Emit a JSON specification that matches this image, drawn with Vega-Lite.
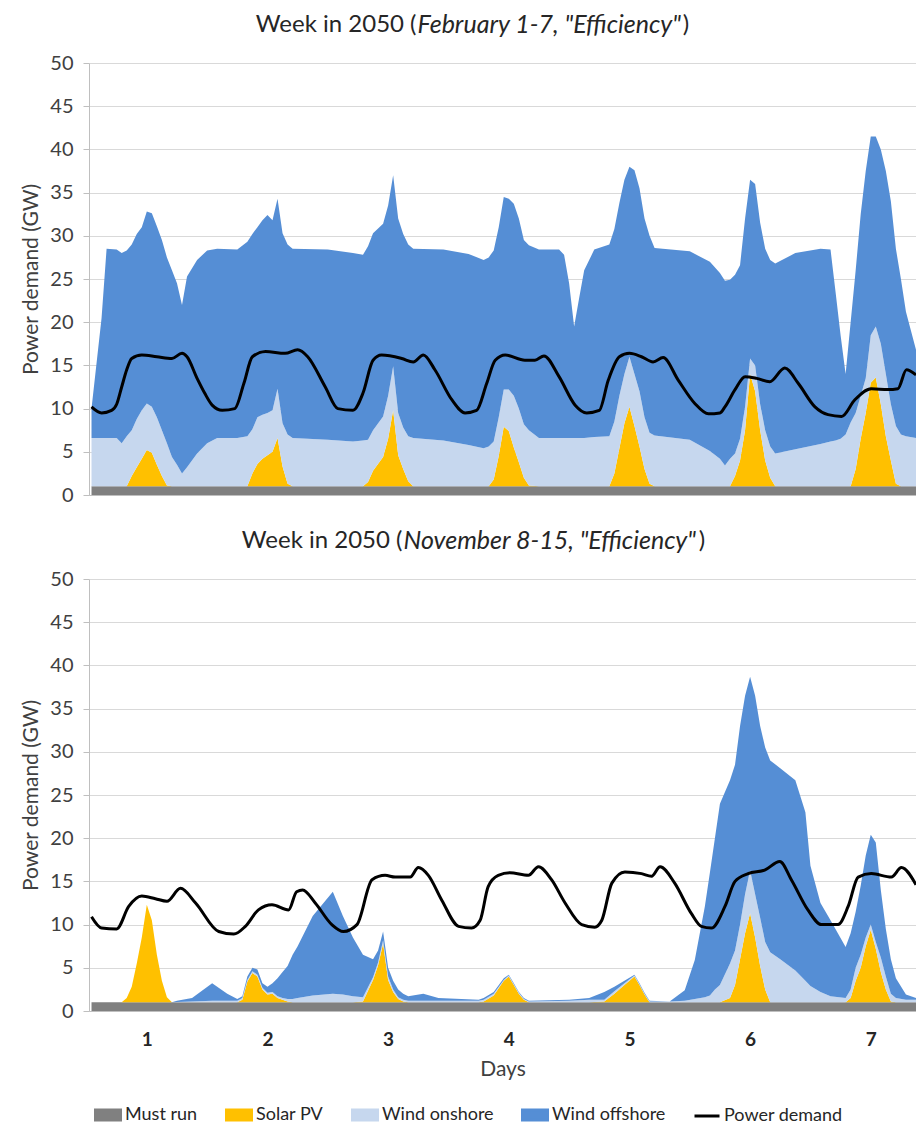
{
  "$schema": "https://vega.github.io/schema/vega-lite/v6.json",
  "padding": {"left": 20, "top": 12, "right": 0, "bottom": 0},
  "spacing": 23,
  "config": {
    "font": "Lato",
    "view": {"stroke": null},
    "axis": {"labelColor": "#404040", "titleColor": "#404040", "labelFontSize": 20, "titleFontSize": 21, "titleFontWeight": "normal", "domainColor": "#bfbfbf", "tickColor": "#bfbfbf", "gridColor": "#d9d9d9"}
  },
  "resolve": {"scale": {"color": "shared"}, "legend": {"color": "shared"}},
  "datasets": {
    "areas": [
      {"p":"F","h":0,"a":1,"b":0,"c":5.6,"d":3.4},
      {"p":"F","h":2,"a":1,"b":0,"c":5.6,"d":13.9},
      {"p":"F","h":3,"a":1,"b":0,"c":5.6,"d":21.9},
      {"p":"F","h":5,"a":1,"b":0,"c":5.6,"d":21.8},
      {"p":"F","h":6,"a":1,"b":0,"c":5.0,"d":22.0},
      {"p":"F","h":7,"a":1,"b":0,"c":5.8,"d":21.5},
      {"p":"F","h":8,"a":1,"b":1.2,"c":5.3,"d":21.5},
      {"p":"F","h":9,"a":1,"b":2.2,"c":5.6,"d":21.4},
      {"p":"F","h":10,"a":1,"b":3.2,"c":5.6,"d":21.2},
      {"p":"F","h":11,"a":1,"b":4.2,"c":5.4,"d":22.2},
      {"p":"F","h":12,"a":1,"b":3.9,"c":5.3,"d":22.4},
      {"p":"F","h":13,"a":1,"b":2.5,"c":5.5,"d":22.1},
      {"p":"F","h":14,"a":1,"b":1.2,"c":5.3,"d":22.0},
      {"p":"F","h":15,"a":1,"b":0.1,"c":4.9,"d":21.5},
      {"p":"F","h":16,"a":1,"b":0,"c":3.4,"d":21.6},
      {"p":"F","h":17,"a":1,"b":0,"c":2.5,"d":21.0},
      {"p":"F","h":18,"a":1,"b":0,"c":1.5,"d":19.5},
      {"p":"F","h":19,"a":1,"b":0,"c":2.2,"d":22.1},
      {"p":"F","h":21,"a":1,"b":0,"c":3.8,"d":22.4},
      {"p":"F","h":23,"a":1,"b":0,"c":5.0,"d":22.3},
      {"p":"F","h":25,"a":1,"b":0,"c":5.6,"d":21.9},
      {"p":"F","h":29,"a":1,"b":0,"c":5.6,"d":21.8},
      {"p":"F","h":31,"a":1,"b":0,"c":5.8,"d":22.5},
      {"p":"F","h":32,"a":1,"b":1.5,"c":5.1,"d":22.6},
      {"p":"F","h":33,"a":1,"b":2.6,"c":5.4,"d":22.0},
      {"p":"F","h":34,"a":1,"b":3.2,"c":5.1,"d":22.5},
      {"p":"F","h":35,"a":1,"b":3.6,"c":4.9,"d":22.9},
      {"p":"F","h":36,"a":1,"b":4.0,"c":4.8,"d":22.0},
      {"p":"F","h":37,"a":1,"b":5.6,"c":5.7,"d":22.0},
      {"p":"F","h":38,"a":1,"b":2.3,"c":5.0,"d":22.0},
      {"p":"F","h":39,"a":1,"b":0.3,"c":5.7,"d":22.0},
      {"p":"F","h":40,"a":1,"b":0,"c":5.6,"d":21.9},
      {"p":"F","h":47,"a":1,"b":0,"c":5.4,"d":22.0},
      {"p":"F","h":52,"a":1,"b":0,"c":5.2,"d":21.8},
      {"p":"F","h":54,"a":1,"b":0,"c":5.3,"d":21.5},
      {"p":"F","h":55,"a":1,"b":0.5,"c":4.9,"d":22.4},
      {"p":"F","h":56,"a":1,"b":1.8,"c":4.7,"d":22.8},
      {"p":"F","h":58,"a":1,"b":3.4,"c":4.7,"d":22.3},
      {"p":"F","h":59,"a":1,"b":5.5,"c":5.0,"d":22.0},
      {"p":"F","h":60,"a":1,"b":8.8,"c":5.1,"d":22.1},
      {"p":"F","h":61,"a":1,"b":3.6,"c":4.9,"d":22.5},
      {"p":"F","h":62,"a":1,"b":2.0,"c":4.8,"d":22.4},
      {"p":"F","h":63,"a":1,"b":0.6,"c":5.2,"d":22.2},
      {"p":"F","h":64,"a":1,"b":0,"c":5.6,"d":21.9},
      {"p":"F","h":70,"a":1,"b":0,"c":5.3,"d":22.1},
      {"p":"F","h":75,"a":1,"b":0,"c":4.8,"d":22.1},
      {"p":"F","h":78,"a":1,"b":0,"c":4.4,"d":21.8},
      {"p":"F","h":79,"a":1,"b":0,"c":4.6,"d":21.9},
      {"p":"F","h":80,"a":1,"b":0.8,"c":4.4,"d":22.1},
      {"p":"F","h":81,"a":1,"b":3.5,"c":4.5,"d":22.0},
      {"p":"F","h":82,"a":1,"b":6.9,"c":4.3,"d":22.3},
      {"p":"F","h":83,"a":1,"b":6.4,"c":4.8,"d":22.1},
      {"p":"F","h":84,"a":1,"b":4.5,"c":6.0,"d":22.2},
      {"p":"F","h":85,"a":1,"b":2.8,"c":6.2,"d":22.0},
      {"p":"F","h":86,"a":1,"b":1.0,"c":6.2,"d":21.3},
      {"p":"F","h":87,"a":1,"b":0.1,"c":6.4,"d":21.4},
      {"p":"F","h":89,"a":1,"b":0,"c":5.6,"d":21.8},
      {"p":"F","h":93,"a":1,"b":0,"c":5.6,"d":21.8},
      {"p":"F","h":94,"a":1,"b":0,"c":5.6,"d":21.2},
      {"p":"F","h":95,"a":1,"b":0,"c":5.6,"d":17.9},
      {"p":"F","h":96,"a":1,"b":0,"c":5.6,"d":12.9},
      {"p":"F","h":97,"a":1,"b":0,"c":5.6,"d":16.2},
      {"p":"F","h":98,"a":1,"b":0,"c":5.6,"d":19.4},
      {"p":"F","h":100,"a":1,"b":0,"c":5.7,"d":21.7},
      {"p":"F","h":103,"a":1,"b":0,"c":5.8,"d":22.2},
      {"p":"F","h":104,"a":1,"b":1.5,"c":6.0,"d":22.3},
      {"p":"F","h":105,"a":1,"b":4.4,"c":6.1,"d":22.3},
      {"p":"F","h":106,"a":1,"b":7.3,"c":5.7,"d":22.5},
      {"p":"F","h":107,"a":1,"b":9.2,"c":5.8,"d":22.0},
      {"p":"F","h":108,"a":1,"b":7.0,"c":6.0,"d":23.6},
      {"p":"F","h":109,"a":1,"b":4.6,"c":6.4,"d":23.5},
      {"p":"F","h":110,"a":1,"b":2.0,"c":6.0,"d":23.0},
      {"p":"F","h":111,"a":1,"b":0.3,"c":5.9,"d":22.8},
      {"p":"F","h":112,"a":1,"b":0,"c":5.9,"d":21.7},
      {"p":"F","h":119,"a":1,"b":0,"c":5.4,"d":21.8},
      {"p":"F","h":123,"a":1,"b":0,"c":4.1,"d":21.9},
      {"p":"F","h":125,"a":1,"b":0,"c":3.2,"d":21.5},
      {"p":"F","h":126,"a":1,"b":0,"c":2.4,"d":21.4},
      {"p":"F","h":127,"a":1,"b":0,"c":3.2,"d":20.7},
      {"p":"F","h":128,"a":1,"b":1.2,"c":2.6,"d":20.7},
      {"p":"F","h":129,"a":1,"b":3.0,"c":2.5,"d":20.1},
      {"p":"F","h":130,"a":1,"b":6.5,"c":2.7,"d":21.8},
      {"p":"F","h":131,"a":1,"b":13.0,"c":1.8,"d":20.7},
      {"p":"F","h":132,"a":1,"b":11.0,"c":3.0,"d":21.0},
      {"p":"F","h":133,"a":1,"b":6.5,"c":3.0,"d":21.0},
      {"p":"F","h":134,"a":1,"b":3.0,"c":3.5,"d":21.0},
      {"p":"F","h":135,"a":1,"b":1.0,"c":3.6,"d":21.6},
      {"p":"F","h":136,"a":1,"b":0,"c":3.8,"d":22.0},
      {"p":"F","h":140,"a":1,"b":0,"c":4.3,"d":22.7},
      {"p":"F","h":145,"a":1,"b":0,"c":4.9,"d":22.6},
      {"p":"F","h":147,"a":1,"b":0,"c":5.2,"d":22.2},
      {"p":"F","h":148,"a":1,"b":0,"c":5.3,"d":17.2},
      {"p":"F","h":149,"a":1,"b":0,"c":5.5,"d":12.0},
      {"p":"F","h":150,"a":1,"b":0,"c":6.0,"d":7.0},
      {"p":"F","h":151,"a":1,"b":0,"c":7.4,"d":11.6},
      {"p":"F","h":152,"a":1,"b":2.0,"c":6.5,"d":16.5},
      {"p":"F","h":153,"a":1,"b":5.5,"c":5.0,"d":21.0},
      {"p":"F","h":154,"a":1,"b":8.5,"c":4.0,"d":24.0},
      {"p":"F","h":155,"a":1,"b":12.0,"c":5.5,"d":23.0},
      {"p":"F","h":156,"a":1,"b":12.6,"c":5.9,"d":22.0},
      {"p":"F","h":157,"a":1,"b":9.5,"c":7.0,"d":22.5},
      {"p":"F","h":158,"a":1,"b":5.8,"c":7.2,"d":23.5},
      {"p":"F","h":159,"a":1,"b":3.0,"c":6.5,"d":23.5},
      {"p":"F","h":160,"a":1,"b":0.3,"c":6.7,"d":20.5},
      {"p":"F","h":161,"a":1,"b":0,"c":6.0,"d":18.0},
      {"p":"F","h":162,"a":1,"b":0,"c":5.8,"d":14.4},
      {"p":"F","h":164,"a":1,"b":0,"c":5.6,"d":10.2},
      {"p":"N","h":0,"a":1,"b":0,"c":0,"d":0},
      {"p":"N","h":6,"a":1,"b":0,"c":0,"d":0},
      {"p":"N","h":7,"a":1,"b":0.5,"c":0,"d":0},
      {"p":"N","h":8,"a":1,"b":1.8,"c":0,"d":0},
      {"p":"N","h":9,"a":1,"b":4.5,"c":0,"d":0},
      {"p":"N","h":10,"a":1,"b":7.5,"c":0,"d":0},
      {"p":"N","h":11,"a":1,"b":11.3,"c":0,"d":0},
      {"p":"N","h":12,"a":1,"b":9.5,"c":0,"d":0},
      {"p":"N","h":13,"a":1,"b":5.5,"c":0,"d":0},
      {"p":"N","h":14,"a":1,"b":2.5,"c":0,"d":0},
      {"p":"N","h":15,"a":1,"b":0.6,"c":0,"d":0},
      {"p":"N","h":16,"a":1,"b":0,"c":0,"d":0},
      {"p":"N","h":17,"a":1,"b":0,"c":0.05,"d":0.15},
      {"p":"N","h":20,"a":1,"b":0,"c":0.1,"d":0.4},
      {"p":"N","h":24,"a":1,"b":0,"c":0.2,"d":2.0},
      {"p":"N","h":27,"a":1,"b":0,"c":0.2,"d":0.8},
      {"p":"N","h":29,"a":1,"b":0,"c":0.2,"d":0.2},
      {"p":"N","h":30,"a":1,"b":0.3,"c":0.2,"d":0.2},
      {"p":"N","h":31,"a":1,"b":2.4,"c":0.2,"d":0.4},
      {"p":"N","h":32,"a":1,"b":3.4,"c":0.2,"d":0.4},
      {"p":"N","h":33,"a":1,"b":3.0,"c":0.2,"d":0.6},
      {"p":"N","h":34,"a":1,"b":1.5,"c":0.2,"d":0.5},
      {"p":"N","h":35,"a":1,"b":0.9,"c":0.2,"d":0.7},
      {"p":"N","h":36,"a":1,"b":1.0,"c":0.2,"d":1.0},
      {"p":"N","h":37,"a":1,"b":0.5,"c":0.2,"d":2.1},
      {"p":"N","h":38,"a":1,"b":0.3,"c":0.2,"d":3.0},
      {"p":"N","h":39,"a":1,"b":0.1,"c":0.3,"d":3.8},
      {"p":"N","h":40,"a":1,"b":0,"c":0.4,"d":5.1},
      {"p":"N","h":41,"a":1,"b":0,"c":0.5,"d":6.0},
      {"p":"N","h":44,"a":1,"b":0,"c":0.8,"d":9.2},
      {"p":"N","h":48,"a":1,"b":0,"c":1.0,"d":11.8},
      {"p":"N","h":50,"a":1,"b":0,"c":0.9,"d":9.1},
      {"p":"N","h":52,"a":1,"b":0,"c":0.7,"d":6.8},
      {"p":"N","h":54,"a":1,"b":0.1,"c":0.5,"d":4.9},
      {"p":"N","h":56,"a":1,"b":2.6,"c":0.3,"d":2.1},
      {"p":"N","h":57,"a":1,"b":4.3,"c":0.3,"d":1.4},
      {"p":"N","h":58,"a":1,"b":6.8,"c":0.4,"d":1.0},
      {"p":"N","h":59,"a":1,"b":2.6,"c":0.4,"d":1.0},
      {"p":"N","h":60,"a":1,"b":1.2,"c":0.3,"d":1.0},
      {"p":"N","h":61,"a":1,"b":0.4,"c":0.2,"d":0.9},
      {"p":"N","h":62,"a":1,"b":0.1,"c":0.2,"d":0.7},
      {"p":"N","h":63,"a":1,"b":0,"c":0.2,"d":0.5},
      {"p":"N","h":66,"a":1,"b":0,"c":0.2,"d":0.8},
      {"p":"N","h":69,"a":1,"b":0,"c":0.2,"d":0.3},
      {"p":"N","h":77,"a":1,"b":0,"c":0.2,"d":0.1},
      {"p":"N","h":78,"a":1,"b":0.1,"c":0.2,"d":0.2},
      {"p":"N","h":80,"a":1,"b":0.8,"c":0.2,"d":0.2},
      {"p":"N","h":82,"a":1,"b":2.5,"c":0.1,"d":0.2},
      {"p":"N","h":83,"a":1,"b":3.0,"c":0.1,"d":0.1},
      {"p":"N","h":84,"a":1,"b":2.0,"c":0.1,"d":0.1},
      {"p":"N","h":85,"a":1,"b":1.0,"c":0.1,"d":0.1},
      {"p":"N","h":86,"a":1,"b":0.3,"c":0.1,"d":0.1},
      {"p":"N","h":87,"a":1,"b":0,"c":0.1,"d":0.1},
      {"p":"N","h":95,"a":1,"b":0,"c":0.2,"d":0.1},
      {"p":"N","h":99,"a":1,"b":0,"c":0.3,"d":0.2},
      {"p":"N","h":102,"a":1,"b":0.1,"c":0.2,"d":0.9},
      {"p":"N","h":104,"a":1,"b":1.0,"c":0.3,"d":0.5},
      {"p":"N","h":106,"a":1,"b":2.0,"c":0.2,"d":0.3},
      {"p":"N","h":108,"a":1,"b":3.0,"c":0.1,"d":0.1},
      {"p":"N","h":109,"a":1,"b":2.0,"c":0.1,"d":0.1},
      {"p":"N","h":110,"a":1,"b":0.9,"c":0.1,"d":0.1},
      {"p":"N","h":111,"a":1,"b":0,"c":0.1,"d":0.1},
      {"p":"N","h":115,"a":1,"b":0,"c":0.1,"d":0},
      {"p":"N","h":118,"a":1,"b":0,"c":0.2,"d":1.2},
      {"p":"N","h":120,"a":1,"b":0,"c":0.4,"d":4.5},
      {"p":"N","h":122,"a":1,"b":0,"c":0.6,"d":10.5},
      {"p":"N","h":123,"a":1,"b":0,"c":0.8,"d":14.2},
      {"p":"N","h":124,"a":1,"b":0,"c":1.5,"d":17.5},
      {"p":"N","h":125,"a":1,"b":0,"c":2.0,"d":21.0},
      {"p":"N","h":127,"a":1,"b":0.5,"c":4.0,"d":21.2},
      {"p":"N","h":128,"a":1,"b":2.0,"c":4.0,"d":21.5},
      {"p":"N","h":129,"a":1,"b":5.0,"c":4.0,"d":23.0},
      {"p":"N","h":130,"a":1,"b":8.0,"c":4.5,"d":23.0},
      {"p":"N","h":131,"a":1,"b":10.3,"c":5.0,"d":22.4},
      {"p":"N","h":132,"a":1,"b":7.5,"c":5.0,"d":23.0},
      {"p":"N","h":133,"a":1,"b":4.2,"c":5.6,"d":22.2},
      {"p":"N","h":134,"a":1,"b":1.5,"c":5.5,"d":22.5},
      {"p":"N","h":135,"a":1,"b":0,"c":5.8,"d":22.2},
      {"p":"N","h":137,"a":1,"b":0,"c":5.0,"d":22.1},
      {"p":"N","h":140,"a":1,"b":0,"c":3.7,"d":22.0},
      {"p":"N","h":142,"a":1,"b":0,"c":2.5,"d":19.5},
      {"p":"N","h":143,"a":1,"b":0,"c":1.9,"d":13.9},
      {"p":"N","h":145,"a":1,"b":0,"c":1.2,"d":10.3},
      {"p":"N","h":147,"a":1,"b":0,"c":0.7,"d":8.8},
      {"p":"N","h":150,"a":1,"b":0,"c":0.5,"d":5.9},
      {"p":"N","h":151,"a":1,"b":0.5,"c":1.0,"d":6.5},
      {"p":"N","h":152,"a":1,"b":2.5,"c":1.5,"d":6.5},
      {"p":"N","h":153,"a":1,"b":4.0,"c":1.5,"d":8.0},
      {"p":"N","h":154,"a":1,"b":6.5,"c":1.0,"d":9.5},
      {"p":"N","h":155,"a":1,"b":8.4,"c":0.6,"d":10.4},
      {"p":"N","h":156,"a":1,"b":6.2,"c":0.8,"d":11.5},
      {"p":"N","h":157,"a":1,"b":3.5,"c":1.7,"d":7.8},
      {"p":"N","h":158,"a":1,"b":1.5,"c":1.5,"d":5.5},
      {"p":"N","h":159,"a":1,"b":0.1,"c":0.9,"d":4.0},
      {"p":"N","h":160,"a":1,"b":0,"c":0.5,"d":2.3},
      {"p":"N","h":162,"a":1,"b":0,"c":0.3,"d":0.6},
      {"p":"N","h":164,"a":1,"b":0,"c":0.3,"d":0.2}
    ],
    "demand": [
      {"p":"F","h":0,"v":10.2},{"p":"F","h":2,"v":9.5},{"p":"F","h":4,"v":9.8},{"p":"F","h":5,"v":10.5},
      {"p":"F","h":6,"v":12.5},{"p":"F","h":7,"v":14.5},{"p":"F","h":8,"v":15.8},{"p":"F","h":10,"v":16.2},
      {"p":"F","h":13,"v":16.0},{"p":"F","h":16,"v":15.8},{"p":"F","h":18,"v":16.4},{"p":"F","h":19,"v":16.0},
      {"p":"F","h":21,"v":13.5},{"p":"F","h":22.5,"v":11.8},{"p":"F","h":24,"v":10.4},{"p":"F","h":26,"v":9.8},
      {"p":"F","h":28.5,"v":10.0},{"p":"F","h":30.3,"v":12.9},{"p":"F","h":32,"v":16.0},{"p":"F","h":34.6,"v":16.6},
      {"p":"F","h":38.5,"v":16.4},{"p":"F","h":41,"v":16.8},{"p":"F","h":43,"v":16.0},{"p":"F","h":46.5,"v":12.5},
      {"p":"F","h":49,"v":10.0},{"p":"F","h":52,"v":9.8},{"p":"F","h":54,"v":11.8},{"p":"F","h":56,"v":15.6},
      {"p":"F","h":57.7,"v":16.2},{"p":"F","h":61.7,"v":15.8},{"p":"F","h":64,"v":15.4},{"p":"F","h":66,"v":16.2},
      {"p":"F","h":68.3,"v":14.5},{"p":"F","h":71.7,"v":11.0},{"p":"F","h":74.3,"v":9.5},{"p":"F","h":76.6,"v":9.8},
      {"p":"F","h":78.6,"v":12.9},{"p":"F","h":80.3,"v":15.6},{"p":"F","h":82.3,"v":16.2},{"p":"F","h":86.2,"v":15.6},
      {"p":"F","h":88.2,"v":15.6},{"p":"F","h":90,"v":16.1},{"p":"F","h":93,"v":13.7},{"p":"F","h":96.2,"v":10.4},
      {"p":"F","h":98.5,"v":9.5},{"p":"F","h":101,"v":9.8},{"p":"F","h":102.8,"v":13.3},{"p":"F","h":105,"v":16.0},
      {"p":"F","h":107,"v":16.4},{"p":"F","h":109.4,"v":16.0},{"p":"F","h":111.7,"v":15.4},{"p":"F","h":113.7,"v":15.9},
      {"p":"F","h":116.7,"v":13.3},{"p":"F","h":120,"v":10.6},{"p":"F","h":122.7,"v":9.4},{"p":"F","h":125,"v":9.5},
      {"p":"F","h":126,"v":10.2},{"p":"F","h":128,"v":12.2},{"p":"F","h":130,"v":13.7},{"p":"F","h":132.3,"v":13.5},
      {"p":"F","h":134.9,"v":13.1},{"p":"F","h":137.9,"v":14.7},{"p":"F","h":140.6,"v":12.9},{"p":"F","h":143.9,"v":10.2},
      {"p":"F","h":146.5,"v":9.3},{"p":"F","h":149.2,"v":9.1},{"p":"F","h":151.8,"v":11.0},{"p":"F","h":155.1,"v":12.3},
      {"p":"F","h":158.4,"v":12.2},{"p":"F","h":160.4,"v":12.3},{"p":"F","h":162.1,"v":14.5},{"p":"F","h":164,"v":13.9},
      {"p":"N","h":0,"v":10.9},{"p":"N","h":2,"v":9.6},{"p":"N","h":5,"v":9.5},{"p":"N","h":7.4,"v":12.1},
      {"p":"N","h":10,"v":13.3},{"p":"N","h":12.7,"v":13.0},{"p":"N","h":15,"v":12.7},{"p":"N","h":17.7,"v":14.2},
      {"p":"N","h":20.7,"v":12.5},{"p":"N","h":25.3,"v":9.2},{"p":"N","h":28.3,"v":8.9},{"p":"N","h":30.6,"v":9.8},
      {"p":"N","h":33.2,"v":11.7},{"p":"N","h":35.9,"v":12.3},{"p":"N","h":39.2,"v":11.7},{"p":"N","h":40.8,"v":13.8},
      {"p":"N","h":42,"v":14.0},{"p":"N","h":44.5,"v":12.5},{"p":"N","h":47.8,"v":10.0},{"p":"N","h":50.1,"v":9.2},
      {"p":"N","h":52.8,"v":10.0},{"p":"N","h":55.8,"v":15.2},{"p":"N","h":58.4,"v":15.7},{"p":"N","h":60.4,"v":15.5},
      {"p":"N","h":63.4,"v":15.5},{"p":"N","h":65,"v":16.6},{"p":"N","h":67,"v":15.7},{"p":"N","h":69.7,"v":12.8},
      {"p":"N","h":73,"v":9.8},{"p":"N","h":75.6,"v":9.6},{"p":"N","h":77.3,"v":10.5},{"p":"N","h":78.9,"v":14.4},
      {"p":"N","h":80.9,"v":15.7},{"p":"N","h":83.2,"v":16.0},{"p":"N","h":86.9,"v":15.7},{"p":"N","h":88.9,"v":16.7},
      {"p":"N","h":91.5,"v":15.2},{"p":"N","h":94.2,"v":12.5},{"p":"N","h":97.5,"v":10.0},{"p":"N","h":100.1,"v":9.7},
      {"p":"N","h":101.5,"v":10.5},{"p":"N","h":103.5,"v":14.8},{"p":"N","h":106.1,"v":16.1},{"p":"N","h":109.4,"v":15.9},
      {"p":"N","h":111.4,"v":15.6},{"p":"N","h":113.1,"v":16.7},{"p":"N","h":116,"v":14.8},{"p":"N","h":119.3,"v":11.3},
      {"p":"N","h":121.3,"v":9.8},{"p":"N","h":123.3,"v":9.6},{"p":"N","h":126,"v":12.1},{"p":"N","h":128,"v":15.0},
      {"p":"N","h":130.6,"v":15.9},{"p":"N","h":133.9,"v":16.3},{"p":"N","h":136.9,"v":17.3},{"p":"N","h":139.2,"v":15.2},
      {"p":"N","h":142.5,"v":11.7},{"p":"N","h":145.2,"v":10.0},{"p":"N","h":148.5,"v":10.0},{"p":"N","h":150.5,"v":12.1},
      {"p":"N","h":152.5,"v":15.5},{"p":"N","h":155.1,"v":15.9},{"p":"N","h":159.1,"v":15.5},{"p":"N","h":161.1,"v":16.6},
      {"p":"N","h":164,"v":14.6}
    ]
  },
  "vconcat": [
    {
      "width": 827,
      "height": 432,
      "layer": [
        {
          "data": {"name": "areas"},
          "transform": [{"filter": "datum.p === 'F'"}, {"fold": ["a", "b", "c", "d"], "as": ["k", "v"]}],
          "mark": {"type": "area", "interpolate": "linear"},
          "encoding": {
            "x": {"field": "h", "type": "quantitative", "scale": {"domain": [-0.5, 164], "nice": false, "zero": false},
                  "axis": {"labels": false, "ticks": false, "grid": false, "title": null, "domain": true}},
            "y": {"field": "v", "type": "quantitative", "stack": "zero", "scale": {"domain": [0, 50], "nice": false},
                  "axis": {"values": [0,5,10,15,20,25,30,35,40,45,50], "grid": true, "title": "Power demand (GW)", "tickSize": 6, "labelPadding": 10, "titlePadding": 8}},
            "color": {"field": "k", "type": "nominal",
                      "scale": {"domain": ["a", "b", "c", "d", "e"], "range": ["#808080", "#ffc000", "#c6d7ee", "#558ed5", "#000000"]},
                      "legend": {
                        "orient": "none", "legendX": 5, "legendY": 1038, "direction": "horizontal", "title": null,
                        "labelExpr": "{'a': 'Must run', 'b': 'Solar PV', 'c': 'Wind onshore', 'd': 'Wind offshore', 'e': 'Power demand'}[datum.label]",
                        "labelFontSize": 18, "labelColor": "#262626", "labelOffset": 3, "columnPadding": 22,
                        "symbolSize": 625, "symbolType": "M-1,-0.4H1V0.4H-1Z", "symbolStrokeWidth": 0,
                        "encode": {"symbols": {"update": {
                          "shape": {"signal": "datum.value === 'e' ? 'stroke' : 'M-1,-0.4H1V0.4H-1Z'"},
                          "stroke": {"signal": "datum.value === 'e' ? '#000000' : 'transparent'"},
                          "strokeWidth": {"value": 3}
                        }}}
                      }},
            "order": {"field": "k", "sort": "ascending"}
          }
        },
        {
          "data": {"name": "demand"},
          "transform": [{"filter": "datum.p === 'F'"}],
          "mark": {"type": "line", "interpolate": "monotone", "strokeWidth": 3},
          "encoding": {
            "x": {"field": "h", "type": "quantitative"},
            "y": {"field": "v", "type": "quantitative"},
            "color": {"datum": "e"}
          }
        },
        {
          "data": {"values": [{}]},
          "mark": {"type": "text", "text": "Week in 2050 (", "align": "right", "baseline": "middle", "fontSize": 24, "color": "#262626"},
          "encoding": {"x": {"datum": 64.65}, "y": {"datum": 54.4}}
        },
        {
          "data": {"values": [{}]},
          "mark": {"type": "text", "text": "February 1-7, \"Efficiency\"", "align": "left", "baseline": "middle", "fontSize": 25, "fontStyle": "italic", "color": "#262626"},
          "encoding": {"x": {"datum": 64.85}, "y": {"datum": 54.4}}
        },
        {
          "data": {"values": [{}]},
          "mark": {"type": "text", "text": ")", "align": "left", "baseline": "middle", "fontSize": 24, "color": "#262626"},
          "encoding": {"x": {"datum": 117.6}, "y": {"datum": 54.4}}
        }
      ]
    },
    {
      "width": 827,
      "height": 432,
      "layer": [
        {
          "data": {"name": "areas"},
          "transform": [{"filter": "datum.p === 'N'"}, {"fold": ["a", "b", "c", "d"], "as": ["k", "v"]}],
          "mark": {"type": "area", "interpolate": "linear"},
          "encoding": {
            "x": {"field": "h", "type": "quantitative", "scale": {"domain": [-0.5, 164], "nice": false, "zero": false},
                  "axis": {"values": [11, 35, 59, 83, 107, 131, 155], "labelExpr": "(datum.value + 13) / 24", "labelFontWeight": "bold", "labelFontSize": 19, "labelColor": "#262626", "labelPadding": 19, "ticks": false, "grid": false, "title": "Days", "titlePadding": 9, "domain": true}},
            "y": {"field": "v", "type": "quantitative", "stack": "zero", "scale": {"domain": [0, 50], "nice": false},
                  "axis": {"values": [0,5,10,15,20,25,30,35,40,45,50], "grid": true, "title": "Power demand (GW)", "tickSize": 6, "labelPadding": 10, "titlePadding": 8}},
            "color": {"field": "k", "type": "nominal",
                      "scale": {"domain": ["a", "b", "c", "d", "e"], "range": ["#808080", "#ffc000", "#c6d7ee", "#558ed5", "#000000"]}},
            "order": {"field": "k", "sort": "ascending"}
          }
        },
        {
          "data": {"name": "demand"},
          "transform": [{"filter": "datum.p === 'N'"}],
          "mark": {"type": "line", "interpolate": "monotone", "strokeWidth": 3},
          "encoding": {
            "x": {"field": "h", "type": "quantitative"},
            "y": {"field": "v", "type": "quantitative"},
            "color": {"datum": "e"}
          }
        },
        {
          "data": {"values": [{}]},
          "mark": {"type": "text", "text": "Week in 2050 (", "align": "right", "baseline": "middle", "fontSize": 24, "color": "#262626"},
          "encoding": {"x": {"datum": 61.86}, "y": {"datum": 54.4}}
        },
        {
          "data": {"values": [{}]},
          "mark": {"type": "text", "text": "November 8-15, \"Efficiency\"", "align": "left", "baseline": "middle", "fontSize": 25, "fontStyle": "italic", "color": "#262626"},
          "encoding": {"x": {"datum": 62.06}, "y": {"datum": 54.4}}
        },
        {
          "data": {"values": [{}]},
          "mark": {"type": "text", "text": ")", "align": "left", "baseline": "middle", "fontSize": 24, "color": "#262626"},
          "encoding": {"x": {"datum": 120.8}, "y": {"datum": 54.4}}
        }
      ]
    }
  ]
}
